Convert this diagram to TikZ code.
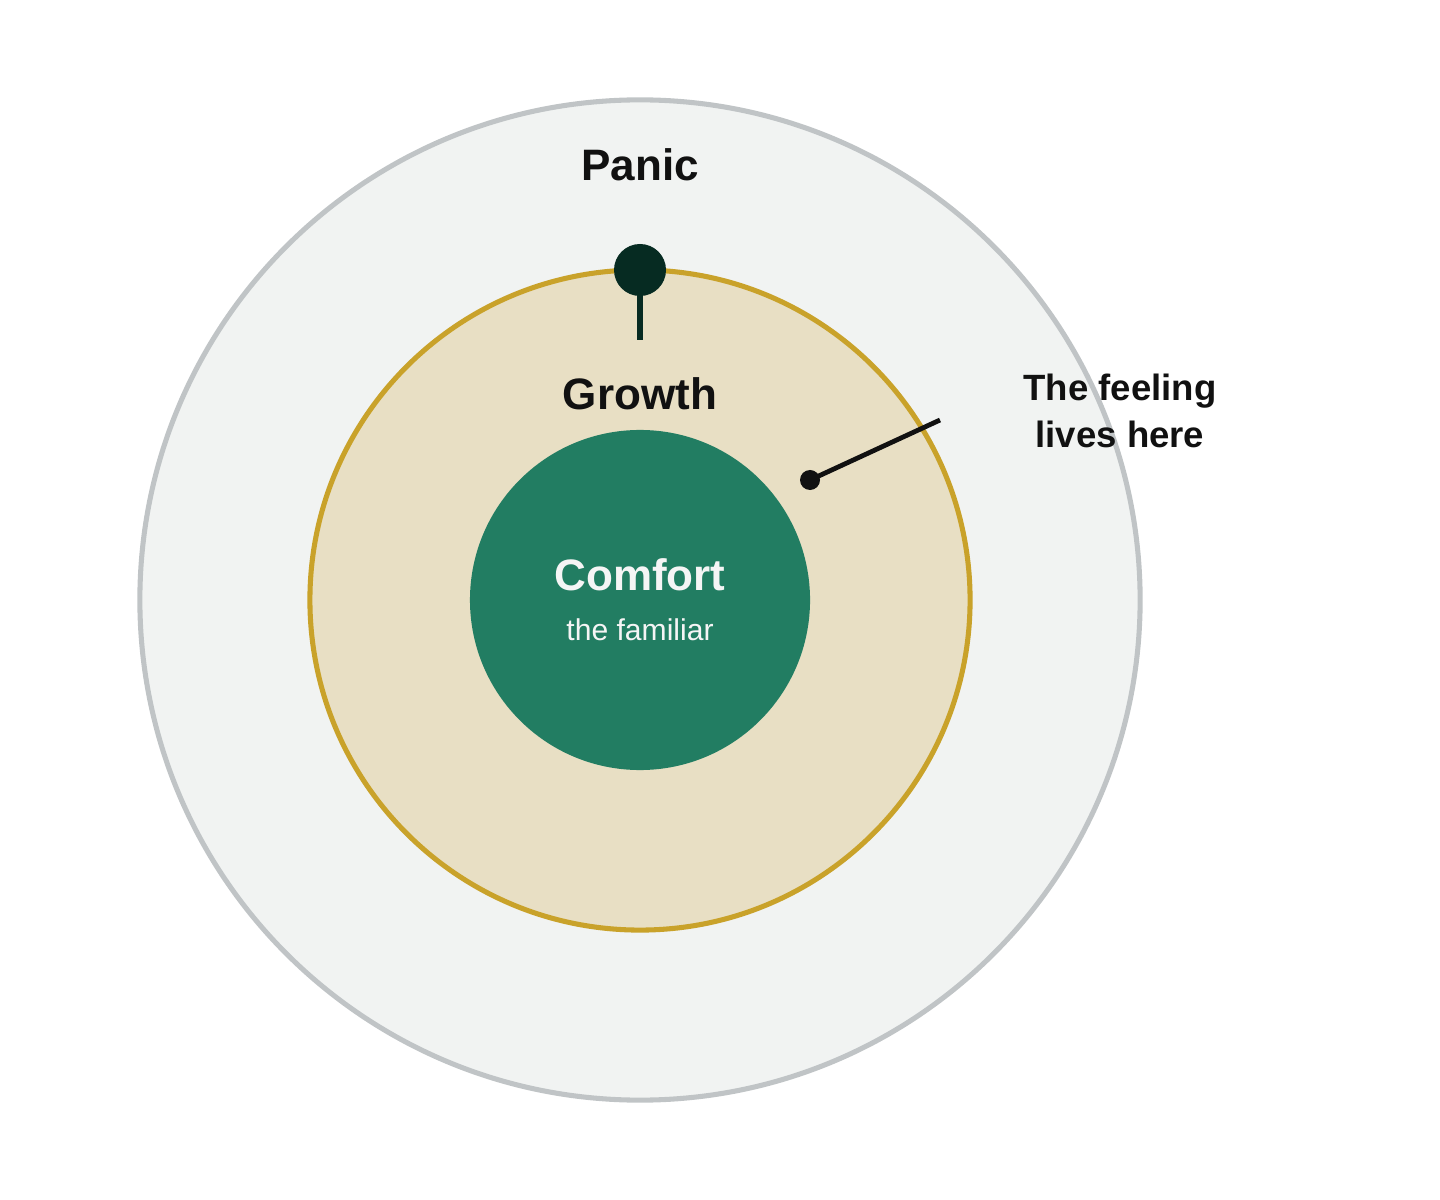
\documentclass[tikz,border=0pt]{standalone}
\usepackage{fontspec}
\setmainfont{Liberation Sans}
\usetikzlibrary{positioning}

\definecolor{panicfill}{HTML}{F1F3F2}
\definecolor{panicline}{HTML}{C0C4C6}
\definecolor{growthfill}{HTML}{E8DFC4}
\definecolor{growthline}{HTML}{C9A22A}
\definecolor{comfortfill}{HTML}{227D62}
\definecolor{pindark}{HTML}{062B22}
\definecolor{inkdark}{HTML}{111111}

\begin{document}
\begin{tikzpicture}[x=0.025cm, y=-0.025cm,
  zone/.style={circle, inner sep=0pt},
  title/.style={font=\bfseries\fontsize{31.3}{36}\selectfont, text=inkdark},
  dot/.style={circle, inner sep=0pt, fill=#1}]
  \useasboundingbox (0,0) rectangle (1440,1200);
  % the three zones
  \node[zone, fill=panicfill, draw=panicline, line width=3.6pt, minimum size=25cm] (panic) at (640,600) {};
  \node[zone, fill=growthfill, draw=growthline, line width=3.6pt, minimum size=16.5cm] (growth) at (640,600) {};
  \node[zone, fill=comfortfill, minimum size=8.5cm] (comfort) at (640,600) {};
  % labels
  \node[title] (paniclabel) at (640,165) {Panic};
  \node[title] (growthlabel) at (640,394) {Growth};
  \node[title, text=white!96!black] (comfortlabel) at (640,575) {Comfort};
  \node[font=\fontsize{21.4}{24}\selectfont, text=white!96!black] (familiar) at (640,630) {the familiar};
  % pin on the edge of growth
  \coordinate (stemend) at (640,340);
  \node[dot=pindark, minimum size=1.3cm] (pin) at (640,270) {};
  \draw[pindark, line width=4.3pt] (pin.center) -- (stemend);
  % callout
  \coordinate (calltail) at (940,420);
  \node[dot=inkdark, minimum size=0.5cm] (calltip) at (810,480) {};
  \draw[inkdark, line width=3.4pt] (calltip.center) -- (calltail);
  \node[font=\bfseries\fontsize{26}{34}\selectfont, text=inkdark, align=center] (feeling) at (1120,411) {The feeling\\lives here};
\end{tikzpicture}
\end{document}
